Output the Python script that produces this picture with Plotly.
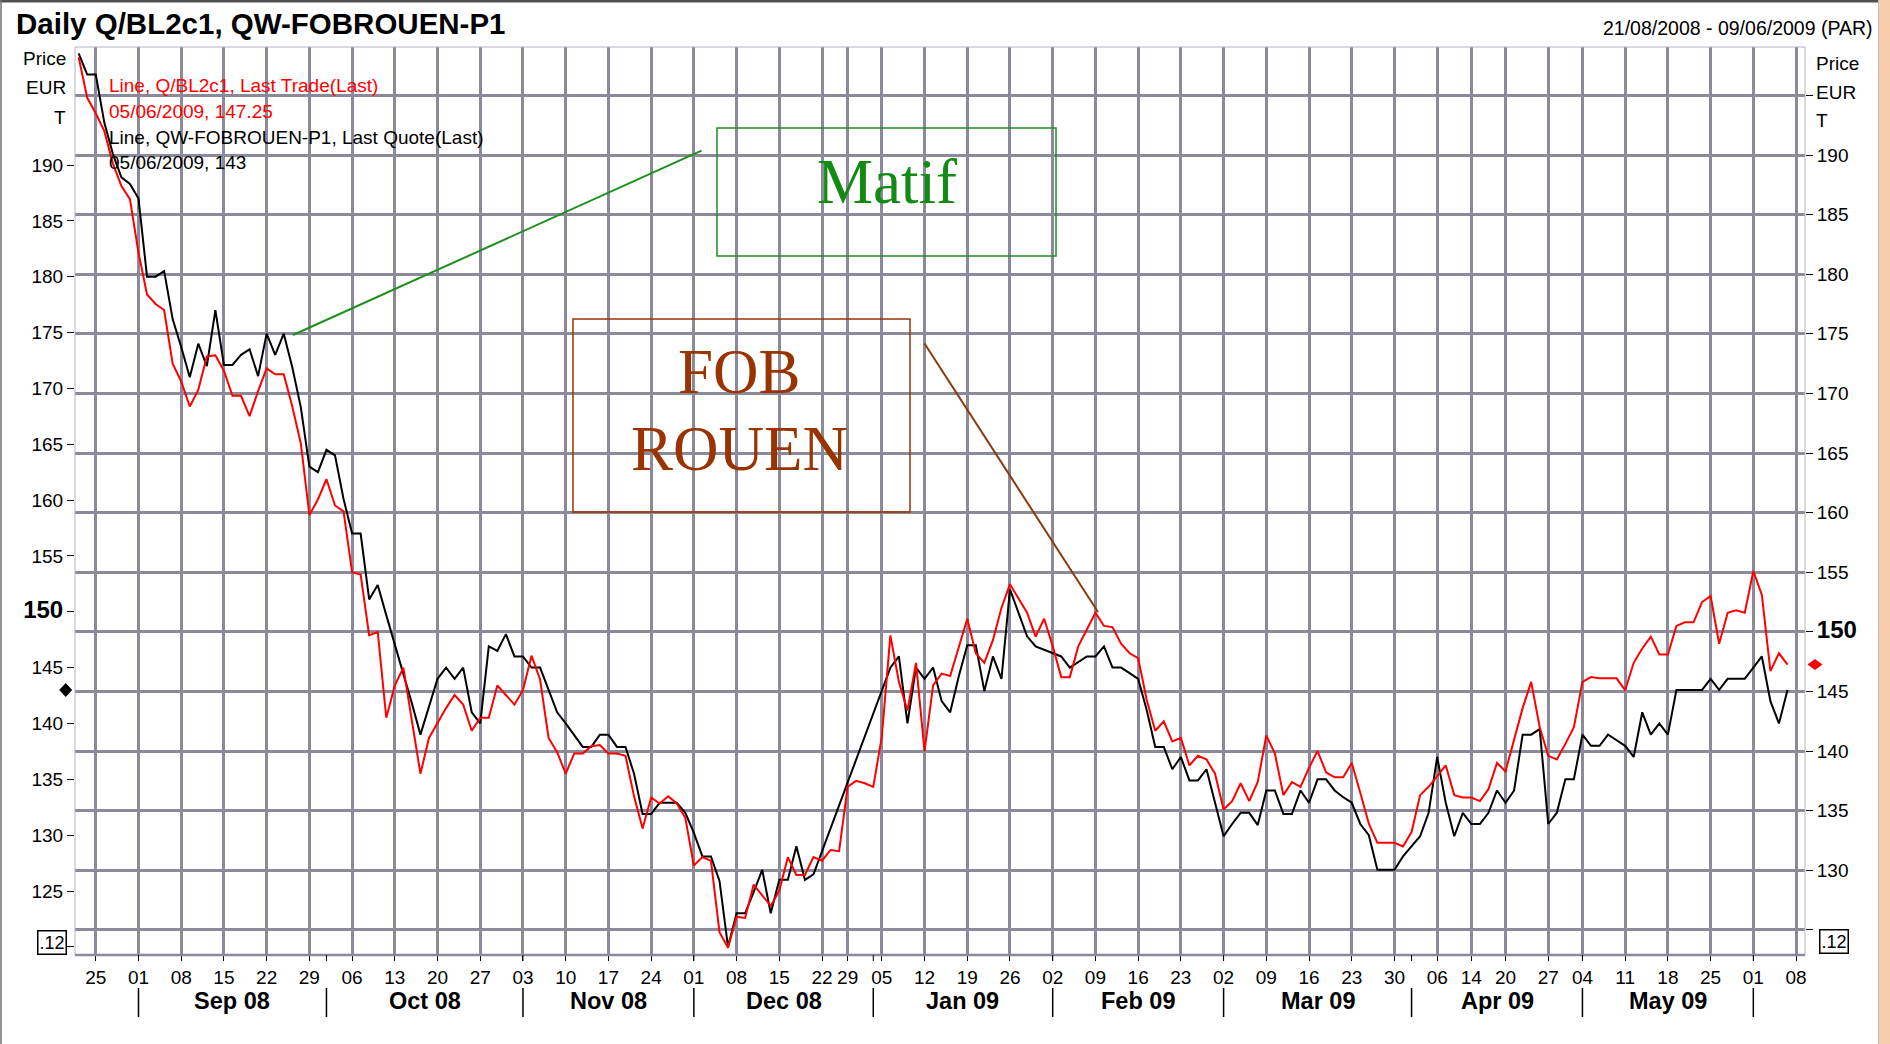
import pandas as pd
import plotly.graph_objects as go

# ---------------- data ----------------
holidays = ["2008-12-25", "2008-12-26", "2009-01-01", "2009-04-10", "2009-04-13", "2009-05-01"]
trade_dates = pd.bdate_range("2008-08-21", "2009-06-05", freq="C", holidays=holidays)

# QW-FOBROUEN-P1, Last Quote (left axis)
fob_rouen = [
    200.0, 198.1, 198.1, 193.8, 191.0, 188.9, 188.3,  # Aug
    187.0, 180.0, 180.0, 180.5, 176.2, 173.7, 171.0, 174.0, 172.0, 177.0, 172.1, 172.1, 173.0, 173.5, 171.1,
    174.9, 173.0, 174.9, 171.9, 168.3, 163.0, 162.5,  # Sep
    164.5, 164.0, 160.1, 157.0, 157.0, 151.1, 152.4, 149.7, 147.1, 144.5, 141.8, 139.0, 141.6, 144.0, 145.0,
    144.0, 145.0, 141.0, 140.0, 146.9, 146.5, 148.0, 146.0,  # Oct
    146.0, 145.0, 145.0, 143.0, 141.0, 140.0, 139.0, 137.9, 137.9, 139.0, 139.0, 137.9, 137.9, 135.5, 131.9,
    131.9, 132.9, 132.9, 132.9, 132.0,  # Nov
    130.2, 128.1, 128.1, 125.9, 120.0, 123.0, 123.0, 124.9, 126.9, 123.0, 126.0, 126.0, 129.0, 126.0, 126.5,
    None, None, None, None, None, None,  # Dec
    None, None, 145.0, 146.0, 140.0, 145.0, 144.0, 145.0, 142.0, 141.0, 144.2, 147.0, 147.0, 142.9, 146.0,
    144.0, 152.0, 149.9, 147.8, 146.9, 146.6,  # Jan
    146.3, 146.0, 145.0, 145.5, 146.0, 146.0, 146.9, 145.0, 145.0, 144.5, 144.0, 141.2, 137.9, 137.9, 135.9,
    137.0, 134.9, 134.9, 135.9, 132.9,  # Feb
    129.9, 131.0, 132.0, 132.0, 130.9, 134.0, 134.0, 131.9, 131.9, 134.0, 132.9, 135.0, 135.0, 134.0, 133.4,
    132.9, 131.0, 130.0, 126.9, 126.9, 126.9, 128.1,  # Mar
    129.0, 129.9, 132.0, 137.0, 132.9, 129.9, 132.0, 131.0, 131.0, 132.0, 134.0, 132.9, 134.0, 139.0, 139.0,
    139.5, 131.0, 132.0, 135.0, 135.0,  # Apr
    139.0, 138.0, 138.0, 139.0, 138.5, 138.0, 137.0, 141.0, 139.0, 140.0, 139.0, 143.0, 143.0, 143.0, 143.0,
    144.0, 143.0, 144.0, 144.0, 144.0,  # May
    145.0, 146.0, 142.0, 140.0, 143.0,  # Jun
]

# Q/BL2c1, Last Trade (right axis)
matif = [
    198.2, 194.8, 193.5, 192.0, 189.3, 187.4, 186.3,  # Aug
    181.8, 178.3, 177.5, 177.0, 172.5, 171.0, 168.9, 170.3, 173.1, 173.2, 171.9, 169.8, 169.8, 168.1, 170.2,
    172.1, 171.6, 171.6, 168.9, 165.8, 159.8, 161.1,  # Sep
    162.8, 160.6, 160.1, 155.0, 154.8, 149.7, 150.0, 142.8, 145.5, 147.0, 142.6, 138.1, 141.1, 142.4, 143.6,
    144.7, 143.9, 141.7, 142.8, 142.8, 145.5, 144.7, 143.9,  # Oct
    145.1, 148.0, 146.0, 141.1, 139.9, 138.1, 139.8, 139.8, 140.4, 140.5, 139.8, 139.8, 139.6, 136.2, 133.5,
    136.1, 135.6, 136.2, 135.6, 134.4,  # Nov
    130.4, 131.1, 130.8, 124.8, 123.5, 126.1, 126.0, 128.8, 127.9, 127.0, 128.3, 131.1, 129.6, 129.6, 131.1,
    130.8, 131.7, 131.6, 137.0, 137.5, 137.3,  # Dec
    137.0, 141.2, 149.7, 145.8, 143.4, 147.4, 140.0, 145.5, 146.5, 146.3, 148.7, 151.1, 148.2, 147.4, 149.3,
    152.0, 154.0, 152.8, 151.6, 149.6, 151.1,  # Jan
    148.8, 146.2, 146.2, 148.8, 150.2, 151.6, 150.5, 150.4, 149.0, 148.2, 147.8, 144.3, 141.7, 142.5, 140.8,
    141.1, 138.8, 139.6, 139.3, 138.1,  # Feb
    135.1, 135.8, 137.3, 135.8, 137.4, 141.3, 139.8, 136.3, 137.4, 137.0, 138.6, 140.0, 138.2, 137.8, 137.8,
    139.0, 136.5, 133.9, 132.3, 132.3, 132.3, 132.0,  # Mar
    133.2, 136.3, 137.0, 137.9, 138.8, 136.3, 136.1, 136.1, 135.8, 136.8, 139.0, 138.3, 140.9, 143.6, 145.8,
    142.0, 139.6, 139.3, 140.6, 142.0,  # Apr
    145.8, 146.2, 146.1, 146.1, 146.1, 145.1, 147.4, 148.6, 149.6, 148.1, 148.1, 150.5, 150.8, 150.8, 152.5,
    153.0, 149.0, 151.6, 151.8, 151.6,  # May
    155.1, 153.1, 146.7, 148.2, 147.25,  # Jun
]

week_ticks = ["2008-08-25", "2008-09-01", "2008-09-08", "2008-09-15", "2008-09-22", "2008-09-29",
              "2008-10-06", "2008-10-13", "2008-10-20", "2008-10-27", "2008-11-03", "2008-11-10",
              "2008-11-17", "2008-11-24", "2008-12-01", "2008-12-08", "2008-12-15", "2008-12-22",
              "2008-12-29", "2009-01-05", "2009-01-12", "2009-01-19", "2009-01-26", "2009-02-02",
              "2009-02-09", "2009-02-16", "2009-02-23", "2009-03-02", "2009-03-09", "2009-03-16",
              "2009-03-23", "2009-03-30", "2009-04-06", "2009-04-14", "2009-04-20", "2009-04-27",
              "2009-05-04", "2009-05-11", "2009-05-18", "2009-05-25", "2009-06-01", "2009-06-08"]
week_labels = [d[-2:] for d in week_ticks]
month_labels = ["Sep 08", "Oct 08", "Nov 08", "Dec 08", "Jan 09", "Feb 09", "Mar 09", "Apr 09", "May 09"]

left_ticks = list(range(120, 191, 5))
right_ticks = list(range(125, 196, 5))

assert len(trade_dates) == len(fob_rouen) == len(matif)

# ---------------- geometry helpers ----------------
W, H = 1890, 1044
L_, R_, T_, B_ = 75, 1805, 47, 955
PW, PH = R_ - L_, B_ - T_


def px(x):
    return (x - L_) / PW


def py(y):
    return (B_ - y) / PH


GRID = "#8b8a9a"
FONT = "Liberation Sans, Arial, sans-serif"
SERIF = "Liberation Serif, Times New Roman, serif"


def fmt_tick(v, blank):
    if v in blank:
        return ""
    if v == 150:
        return '<span style="font-size:24px"><b>150</b></span>'
    return str(v)


fig = go.Figure()
fig.add_trace(go.Scatter(x=trade_dates, y=matif, mode="lines", yaxis="y2",
                         line=dict(color="#ff0000", width=2), name="Q/BL2c1"))
fig.add_trace(go.Scatter(x=trade_dates, y=fob_rouen, mode="lines", yaxis="y", connectgaps=True,
                         line=dict(color="#000000", width=2), name="QW-FOBROUEN-P1"))

fig.update_layout(
    width=W, height=H, autosize=False,
    margin=dict(l=L_, r=W - R_, t=T_, b=H - B_, pad=0),
    paper_bgcolor="white", plot_bgcolor="white",
    showlegend=False,
    font=dict(family=FONT, color="black", size=18),
    xaxis=dict(
        type="date",
        range=["2008-08-20 13:40", "2009-06-09 01:10"],
        rangebreaks=[dict(bounds=["sat", "mon"]), dict(values=holidays)],
        tickmode="array", tickvals=week_ticks, ticktext=week_labels,
        showgrid=True, gridcolor=GRID, gridwidth=2.5,
        ticks="outside", ticklen=5, tickcolor="black", tickwidth=1,
        tickfont=dict(size=19, family=FONT, color="black"),
        showline=False, zeroline=False,
    ),
    yaxis=dict(
        range=[119.27, 200.565],
        tickmode="array", tickvals=left_ticks,
        ticktext=[fmt_tick(v, {120}) for v in left_ticks],
        showgrid=False, zeroline=False, showline=False,
        ticks="outside", ticklen=7, tickcolor="black", tickwidth=1,
        tickfont=dict(size=19, family=FONT, color="black"),
    ),
    yaxis2=dict(
        range=[122.89, 199.06], overlaying="y", side="right",
        tickmode="array", tickvals=right_ticks,
        ticktext=[fmt_tick(v, {125, 195}) for v in right_ticks],
        showgrid=True, gridcolor=GRID, gridwidth=2.5, zeroline=False, showline=False,
        ticks="outside", ticklen=7, tickcolor="black", tickwidth=1,
        tickfont=dict(size=19, family=FONT, color="black"),
    ),
)

shapes = []
ann = []

# plot frame
shapes.append(dict(type="rect", xref="paper", yref="paper", x0=0, x1=1, y0=0, y1=1,
                   line=dict(color="#b4b4c6", width=1), layer="above"))
shapes.append(dict(type="line", xref="paper", yref="paper", x0=0, x1=1, y0=0, y1=0,
                   line=dict(color=GRID, width=2.5), layer="above"))

# month separators and labels
month_first_idx = []
prev = None
for i, d in enumerate(trade_dates):
    if prev is None or d.month != prev.month:
        month_first_idx.append(i)
    prev = d
month_first_idx = month_first_idx[1:]  # skip August
for i in month_first_idx:
    d = trade_dates[i].strftime("%Y-%m-%d")
    shapes.append(dict(type="line", xref="x", yref="paper", x0=d, x1=d,
                       y0=py(988), y1=py(1017), line=dict(color="black", width=1.5)))
    shapes.append(dict(type="line", xref="x", yref="paper", x0=d, x1=d,
                       y0=py(955), y1=py(961), line=dict(color="black", width=1)))
for k, lab in enumerate(month_labels):
    a, b = month_first_idx[k], month_first_idx[k + 1]
    m = (a + b) / 2
    base = trade_dates[int(m)]
    if m != int(m):
        base = base + pd.Timedelta(hours=12)
    ann.append(dict(x=base.strftime("%Y-%m-%d %H:%M"), xref="x", y=py(1001), yref="paper",
                    text="<b>%s</b>" % lab, showarrow=False, xanchor="center", yanchor="middle",
                    font=dict(size=23.5, family=FONT, color="black")))

# title and date range
ann.append(dict(x=px(14), y=py(24), xref="paper", yref="paper", xanchor="left", yanchor="middle",
                text="<b>Daily Q/BL2c1, QW-FOBROUEN-P1</b>", showarrow=False,
                font=dict(size=29.5, family=FONT, color="black")))
ann.append(dict(x=px(1875), y=py(28), xref="paper", yref="paper", xanchor="right", yanchor="middle",
                text="21/08/2008 - 09/06/2009 (PAR)", showarrow=False,
                font=dict(size=19.5, family=FONT, color="black")))

# unit labels
for t, y in [("Price", 59), ("EUR", 88), ("T", 117)]:
    ann.append(dict(x=px(68), y=py(y), xref="paper", yref="paper", xanchor="right", yanchor="middle",
                    text=t, showarrow=False, font=dict(size=19, family=FONT, color="black")))
for t, y in [("Price", 63), ("EUR", 92), ("T", 121)]:
    ann.append(dict(x=px(1814), y=py(y), xref="paper", yref="paper", xanchor="left", yanchor="middle",
                    text=t, showarrow=False, font=dict(size=19, family=FONT, color="black")))

# clipped boxed labels at the bottom of both axes
ann.append(dict(x=px(51.5), y=py(942), xref="paper", yref="paper", xanchor="center", yanchor="middle",
                text=".12", showarrow=False, bordercolor="black", borderwidth=1.5, borderpad=1,
                font=dict(size=18, family=FONT, color="black")))
ann.append(dict(x=px(1834), y=py(941.5), xref="paper", yref="paper", xanchor="center", yanchor="middle",
                text=".12", showarrow=False, bordercolor="black", borderwidth=1.5, borderpad=1,
                font=dict(size=18, family=FONT, color="black")))

# legend-like texts
for t, y, c in [("Line, Q/BL2c1, Last Trade(Last)", 86, "#ff0000"),
                ("05/06/2009, 147.25", 112, "#ff0000"),
                ("Line, QW-FOBROUEN-P1, Last Quote(Last)", 137, "black"),
                ("05/06/2009, 143", 162, "black")]:
    ann.append(dict(x=px(107), y=py(y), xref="paper", yref="paper", xanchor="left", yanchor="middle",
                    text=t, showarrow=False, font=dict(size=19, family=FONT, color=c)))

# last value diamonds
shapes.append(dict(type="path", xref="paper", yref="y", xsizemode="pixel", ysizemode="pixel",
                   xanchor=px(65.7), yanchor=fob_rouen[-1],
                   path="M0,7 L6.5,0 L0,-7 L-6.5,0 Z", fillcolor="black", line=dict(width=0)))
shapes.append(dict(type="path", xref="paper", yref="y2", xsizemode="pixel", ysizemode="pixel",
                   xanchor=px(1815), yanchor=matif[-1],
                   path="M0,5.5 L7.5,0 L0,-5.5 L-7.5,0 Z", fillcolor="#ff0000", line=dict(width=0)))

# call-out boxes
shapes.append(dict(type="rect", xref="paper", yref="paper", x0=px(717), x1=px(1056), y0=py(256), y1=py(128),
                   line=dict(color="#1e8c1e", width=1.5), fillcolor="rgba(0,0,0,0)", layer="above"))
shapes.append(dict(type="line", xref="paper", yref="paper", x0=px(293), y0=py(335), x1=px(701.5), y1=py(150.7),
                   line=dict(color="#1d8f1d", width=2), layer="above"))
ann.append(dict(x=px(887), y=py(182), xref="paper", yref="paper", xanchor="center", yanchor="middle",
                text="Matif", showarrow=False, font=dict(size=63, family=SERIF, color="#138a13")))

shapes.append(dict(type="rect", xref="paper", yref="paper", x0=px(573), x1=px(910), y0=py(512), y1=py(319),
                   line=dict(color="#993300", width=1.5), fillcolor="rgba(0,0,0,0)", layer="above"))
shapes.append(dict(type="line", xref="paper", yref="paper", x0=px(924.5), y0=py(343.5), x1=px(1098), y1=py(612),
                   line=dict(color="#8b3a0a", width=2), layer="above"))
ann.append(dict(x=px(739), y=py(372), xref="paper", yref="paper", xanchor="center", yanchor="middle",
                text="FOB", showarrow=False, font=dict(size=63, family=SERIF, color="#993300")))
ann.append(dict(x=px(739), y=py(449), xref="paper", yref="paper", xanchor="center", yanchor="middle",
                text="ROUEN", showarrow=False, font=dict(size=63, family=SERIF, color="#993300")))

# page decorations (slide frame)
shapes.append(dict(type="line", xref="paper", yref="paper", x0=px(0), x1=px(1878), y0=py(1), y1=py(1),
                   line=dict(color="#505050", width=3)))
shapes.append(dict(type="line", xref="paper", yref="paper", x0=px(1), x1=px(1), y0=py(0), y1=py(1044),
                   line=dict(color="#707070", width=1.5)))
shapes.append(dict(type="rect", xref="paper", yref="paper", x0=px(1878), x1=px(1891), y0=py(1045), y1=py(-1),
                   line=dict(width=0), fillcolor="#f9cda9"))
shapes.append(dict(type="line", xref="paper", yref="paper", x0=px(1878.5), x1=px(1878.5), y0=py(1044), y1=py(0),
                   line=dict(color="#c8c0b8", width=1)))

fig.update_layout(shapes=shapes, annotations=ann)
fig.write_html("out.html",
               config={"displayModeBar": False, "staticPlot": False},
               post_script="document.body.style.margin='0px';document.body.style.overflow='hidden';")
